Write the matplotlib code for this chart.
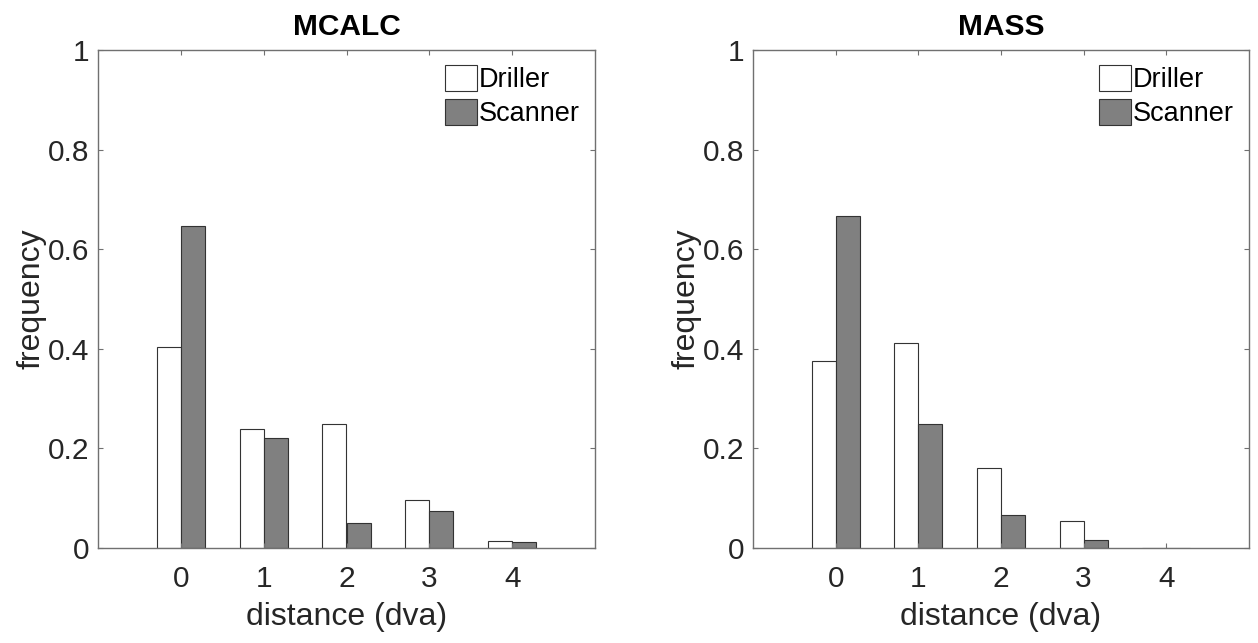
import numpy as np
import matplotlib
matplotlib.use('Agg')
import matplotlib.pyplot as plt

plt.rcParams['font.family'] = ['Liberation Sans', 'DejaVu Sans']

# データ
distance = [0, 1, 2, 3, 4]
series_names = ['Driller', 'Scanner']
titles = ['MCALC', 'MASS']

mcalc_driller = [0.404, 0.238, 0.249, 0.096, 0.015]
mcalc_scanner = [0.647, 0.220, 0.050, 0.074, 0.013]

mass_driller = [0.376, 0.412, 0.161, 0.054, 0.0]
mass_scanner = [0.667, 0.249, 0.067, 0.017, 0.0]

yticks = [0, 0.2, 0.4, 0.6, 0.8, 1]
ytick_labels = ['0', '0.2', '0.4', '0.6', '0.8', '1']

# 描画設定
text_col = '#262626'
axis_col = '#707070'
fill_cols = ['white', '#808080']
bar_w = 0.29

fig = plt.figure(figsize=(12.58, 6.43), dpi=100)
ax1 = fig.add_axes([98/1258, 95/643, 497/1258, 498/643])
ax2 = fig.add_axes([753/1258, 95/643, 496/1258, 498/643])

data = [(mcalc_driller, mcalc_scanner), (mass_driller, mass_scanner)]

for ax, title, (drl, scn) in zip([ax1, ax2], titles, data):
    x = np.array(distance)
    ax.bar(x - bar_w/2, drl, width=bar_w, color=fill_cols[0],
           edgecolor='#333333', linewidth=0.8, label=series_names[0])
    ax.bar(x + bar_w/2, scn, width=bar_w, color=fill_cols[1],
           edgecolor='#333333', linewidth=0.8, label=series_names[1])

    ax.set_xlim(-1, 5)
    ax.set_ylim(0, 1)
    ax.set_xticks(distance)
    ax.set_yticks(yticks)
    ax.set_yticklabels(ytick_labels)
    ax.tick_params(direction='in', length=3.5, width=0.8, colors=axis_col,
                   labelcolor=text_col, labelsize=21.5, top=True, right=True)
    ax.tick_params(axis='x', pad=12)
    ax.tick_params(axis='y', pad=6)
    for s in ax.spines.values():
        s.set_color(axis_col)
        s.set_linewidth(1.0)

    ax.set_title(title, fontsize=21.5, fontweight='bold', color='black', pad=11)
    ax.set_xlabel('distance (dva)', fontsize=23, color=text_col, labelpad=7)
    ax.set_ylabel('frequency', fontsize=23, color=text_col, labelpad=1)

    leg = ax.legend(loc='upper right', frameon=False, fontsize=19.5,
                    handlelength=1.18, handleheight=1.12, handletextpad=0.08,
                    labelspacing=0.2, borderaxespad=0.2, borderpad=0.35)
    for t in leg.get_texts():
        t.set_color('black')

fig.savefig('out.png', dpi=100)
